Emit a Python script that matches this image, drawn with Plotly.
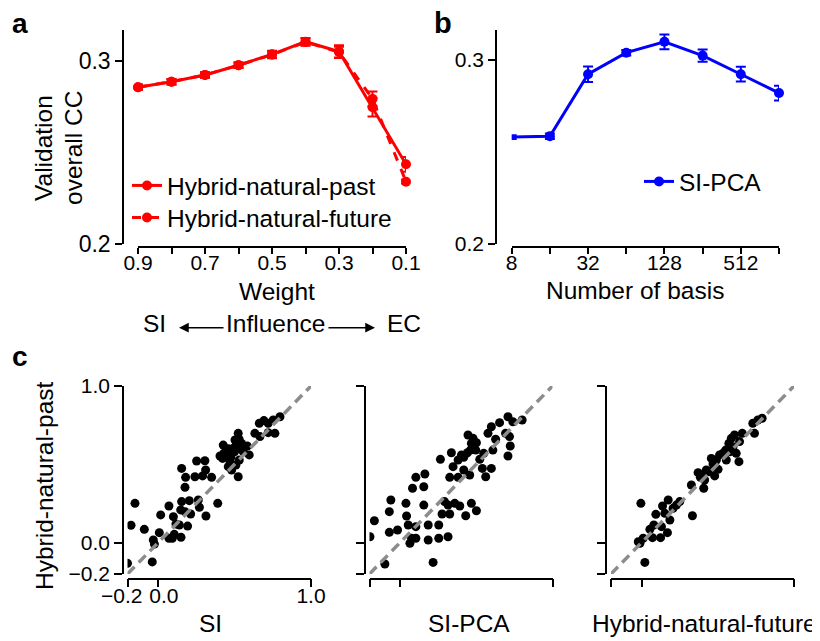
import plotly.graph_objects as go
import math

W, H = 820, 641
OFF = 8  # page body margin of the html page
def px(x): return (x - OFF) / W
def py(y): return 1 - (y - OFF) / H

FONT = "Liberation Sans, Arial, sans-serif"

# ---------------- data ----------------
weights = [0.9, 0.8, 0.7, 0.6, 0.5, 0.4, 0.3, 0.2, 0.1]
weight_labels = ["0.9", "", "0.7", "", "0.5", "", "0.3", "", "0.1"]
past_cc = [0.2858, 0.2888, 0.2925, 0.2978, 0.3038, 0.3107, 0.3053, 0.2748, 0.2436]
past_err = [0.0015, 0.0015, 0.0015, 0.0015, 0.002, 0.002, 0.0035, 0.005, 0.004]
future_cc = [0.2858, 0.2888, 0.2925, 0.2978, 0.3036, 0.3105, 0.3050, 0.2794, 0.2341]
future_err = [0.0015, 0.0015, 0.0015, 0.0015, 0.002, 0.002, 0.003, 0.004, 0.001]

basis = [8, 16, 32, 64, 128, 256, 512, 1024]
basis_labels = ["8", "", "32", "", "128", "", "512", ""]
pca_cc = [0.2580, 0.2585, 0.2921, 0.3038, 0.3097, 0.3022, 0.2921, 0.2819]
pca_err = [0.001, 0.0015, 0.0042, 0.0015, 0.004, 0.0033, 0.004, 0.004]

si_x = [-0.2, -0.038, -0.177, -0.151, -0.09, -0.031, -0.024, 0.008, 0.017, 0.071, 0.071, 0.093,
        0.106, 0.117, 0.10, 0.15, 0.139, 0.148, 0.154, 0.176, 0.204, 0.213, 0.263, 0.27, 0.193,
        0.313, 0.154, 0.18, 0.176, 0.252, 0.241, 0.291, 0.306, 0.311, 0.35, 0.39, 0.422, 0.426,
        0.405, 0.448, 0.459, 0.476, 0.492, 0.503, 0.524, 0.513, 0.481, 0.524, 0.546, 0.557, 0.531,
        0.509, 0.596, 0.583, 0.633, 0.666, 0.662, 0.692, 0.72, 0.753, 0.797, 0.72, 0.764, 0.43,
        0.46, 0.50, 0.53, 0.47, 0.44, 0.55]
si_y = [-0.132, -0.123, 0.111, 0.251, 0.085, 0.017, -0.009, 0.064, 0.177, 0.234, 0.028, 0.028,
        0.053, 0.119, 0.166, 0.034, 0.113, 0.209, 0.262, 0.198, 0.268, 0.183, 0.272, 0.226, 0.106,
        0.170, 0.474, 0.417, 0.353, 0.521, 0.421, 0.426, 0.523, 0.464, 0.417, 0.251, 0.538, 0.623,
        0.553, 0.581, 0.485, 0.545, 0.602, 0.655, 0.698, 0.623, 0.464, 0.421, 0.634, 0.581, 0.528,
        0.496, 0.560, 0.617, 0.698, 0.677, 0.762, 0.779, 0.762, 0.783, 0.804, 0.702, 0.698, 0.57,
        0.60, 0.58, 0.66, 0.52, 0.55, 0.60]

pca_x = [-0.197, -0.168, -0.099, -0.07, -0.07, -0.06, -0.016, 0.039, 0.043, 0.054, 0.065, 0.076,
         0.104, 0.104, 0.082, 0.104, 0.156, 0.163, 0.156, 0.185, 0.185, 0.217, 0.254, 0.254, 0.315,
         0.276, 0.292, 0.326, 0.315, 0.359, 0.392, 0.431, 0.468, 0.501, 0.265, 0.326, 0.337, 0.348,
         0.381, 0.381, 0.403, 0.418, 0.442, 0.446, 0.462, 0.479, 0.501, 0.497, 0.457, 0.418, 0.523,
         0.54, 0.562, 0.599, 0.549, 0.577, 0.599, 0.627, 0.653, 0.692, 0.708, 0.718, 0.723, 0.708,
         0.74, 0.801, 0.609, 0.468]
pca_y = [0.038, 0.14, -0.136, 0.066, 0.198, 0.272, 0.081, 0.251, 0.17, 0.113, -0.004, 0.028,
         0.028, 0.102, 0.347, 0.417, 0.357, 0.438, 0.24, 0.113, 0.017, -0.126, 0.113, 0.028, 0.038,
         0.183, 0.262, 0.183, 0.24, 0.251, 0.234, 0.172, 0.251, 0.204, 0.532, 0.417, 0.574, 0.485,
         0.417, 0.528, 0.56, 0.545, 0.574, 0.687, 0.591, 0.666, 0.638, 0.591, 0.432, 0.464, 0.532,
         0.474, 0.421, 0.474, 0.57, 0.698, 0.74, 0.66, 0.766, 0.698, 0.804, 0.677, 0.617, 0.553,
         0.772, 0.783, 0.591, 0.634]

fut_x = [0.022, -0.021, -0.01, -0.004, 0.011, 0.055, 0.081, 0.094, 0.072, 0.125, 0.131, 0.138,
         0.153, 0.175, 0.17, 0.186, 0.207, 0.229, 0.251, 0.334, 0.327, 0.371, 0.408, 0.393, 0.425,
         0.447, 0.48, 0.491, 0.512, 0.534, 0.552, 0.573, 0.589, 0.61, 0.60, 0.639, 0.621, 0.661,
         0.643, 0.73, 0.741, 0.763, 0.791, 0.469, 0.556, 0.458, 0.386, 0.414, 0.502, 0.582]
fut_y = [-0.126, 0.006, -0.004, 0.251, 0.028, 0.085, 0.113, 0.181, 0.032, 0.032, 0.102, 0.234,
         0.187, 0.272, 0.064, 0.145, 0.219, 0.24, 0.262, 0.172, 0.368, 0.447, 0.347, 0.432, 0.464,
         0.453, 0.426, 0.528, 0.56, 0.57, 0.591, 0.634, 0.666, 0.687, 0.613, 0.517, 0.57, 0.698,
         0.645, 0.762, 0.698, 0.783, 0.794, 0.502, 0.528, 0.538, 0.417, 0.40, 0.468, 0.581]

diag = [-0.2, 1.0]
c_ticks = [-0.2, 0.0, 1.0]

RED = "#ff0000"
BLUE = "#0000ff"

fig = go.Figure()

# ---------------- panel a ----------------
fig.add_trace(go.Scatter(
    x=weights, y=past_cc, name="Hybrid-natural-past", mode="lines+markers",
    line=dict(color=RED, width=3), marker=dict(color=RED, size=10),
    error_y=dict(type="data", array=past_err, color=RED, thickness=2, width=5),
    xaxis="x", yaxis="y", cliponaxis=False, legend="legend"))
fig.add_trace(go.Scatter(
    x=weights, y=future_cc, name="Hybrid-natural-future", mode="lines+markers",
    line=dict(color=RED, width=3, dash="dash"), marker=dict(color=RED, size=10),
    error_y=dict(type="data", array=future_err, color=RED, thickness=2, width=5),
    xaxis="x", yaxis="y", cliponaxis=False, legend="legend3"))

# ---------------- panel b ----------------
fig.add_trace(go.Scatter(
    x=basis, y=pca_cc, name="SI-PCA", mode="lines+markers",
    line=dict(color=BLUE, width=3), marker=dict(color=BLUE, size=10),
    error_y=dict(type="data", array=pca_err, color=BLUE, thickness=2, width=5),
    xaxis="x2", yaxis="y2", cliponaxis=False, legend="legend2"))

# ---------------- panel c ----------------
for (xs, ys, xa, ya) in [(si_x, si_y, "x3", "y3"), (pca_x, pca_y, "x4", "y4"), (fut_x, fut_y, "x5", "y5")]:
    fig.add_trace(go.Scatter(x=xs, y=ys, mode="markers", showlegend=False,
                             marker=dict(color="black", size=9),
                             xaxis=xa, yaxis=ya))
    fig.add_trace(go.Scatter(x=diag, y=diag, mode="lines", showlegend=False,
                             line=dict(color="#8c8c8c", width=3.5, dash="10px,6px"),
                             xaxis=xa, yaxis=ya))

axis_common = dict(showgrid=False, zeroline=False, showline=True, linecolor="black",
                   linewidth=1.5, ticks="outside", tickcolor="black", tickwidth=1.5,
                   tickangle=0, anchor="free", automargin=False)

leg_common = dict(xanchor="left", yanchor="top", bgcolor="rgba(0,0,0,0)",
                  font=dict(size=24.5), itemwidth=30)

layout = dict(
    template="none",
    width=W, height=H, autosize=False,
    margin=dict(l=0, r=0, t=0, b=0, pad=0, autoexpand=False),
    paper_bgcolor="white", plot_bgcolor="white",
    font=dict(family=FONT, color="black", size=21),
    # panel a
    xaxis=dict(axis_common, domain=[px(138), px(406)], range=[0.9, 0.1], position=py(247),
               tickvals=weights, ticktext=weight_labels, ticklen=6, tickfont=dict(size=21),
               ticklabelstandoff=-9),
    yaxis=dict(axis_common, domain=[py(244), py(30)], range=[0.2, 0.3171], position=px(123),
               tickvals=[0.2, 0.3], ticktext=["0.2", "0.3"], ticklen=7, tickfont=dict(size=23)),
    # panel b
    xaxis2=dict(axis_common, type="log", domain=[px(511.7), px(779)],
                range=[math.log10(8), math.log10(1024)], position=py(247),
                tickvals=basis, ticktext=basis_labels, ticklen=6, tickfont=dict(size=21),
                ticklabelstandoff=-9),
    yaxis2=dict(axis_common, domain=[py(244), py(30)], range=[0.2, 0.3161], position=px(496),
                tickvals=[0.2, 0.3], ticktext=["0.2", "0.3"], ticklen=7, tickfont=dict(size=21)),
    legend=dict(leg_common, x=px(127), y=py(163)),
    legend3=dict(leg_common, x=px(127), y=py(195)),
    legend2=dict(leg_common, x=px(639), y=py(159)),
)

c_x_domains = [(127.5, 311), (369.5, 552.5), (611, 794)]
c_y_pos = [123, 364.5, 606]
for i in range(3):
    n = i + 3
    first = (i == 0)
    layout[f"xaxis{n}"] = dict(axis_common, domain=[px(c_x_domains[i][0]), px(c_x_domains[i][1])],
                               range=[-0.2, 1.0], position=py(578.5), tickvals=c_ticks,
                               ticktext=["\u22120.2\u00a0\u00a0", "\u00a0\u00a00.0", "1.0"] if first else ["", "", ""],
                               ticklen=8, tickfont=dict(size=21), ticklabelstandoff=-9)
    layout[f"yaxis{n}"] = dict(axis_common, domain=[py(574), py(386)], range=[-0.2, 1.0],
                               position=px(c_y_pos[i]), tickvals=c_ticks,
                               ticktext=["\u22120.2", "0.0", "1.0"] if first else ["", "", ""],
                               ticklen=8, tickfont=dict(size=21))

fig.update_layout(**layout)

def text(t, x, y, size=24.5, bold=False, angle=0, xanchor="center"):
    fig.add_annotation(text=f"<b>{t}</b>" if bold else t, x=px(x), y=py(y), xref="paper", yref="paper",
                       showarrow=False, xanchor=xanchor, yanchor="middle", textangle=angle,
                       font=dict(size=size, family=FONT, color="black"))

text("a", 10, 23, size=28, bold=True, xanchor="left")
text("b", 432, 23, size=29, bold=True, xanchor="left")
text("c", 10, 356, size=28, bold=True, xanchor="left")

text("Validation", 43, 148, angle=-90)
text("overall CC", 73, 148, angle=-90)
text("Weight", 277, 291)
text("Number of basis", 635, 290)
text("SI", 154.5, 324)
text("Influence", 275, 324)
text("EC", 404, 324)

for (hx, dx) in [(179, 46), (375, -48)]:
    fig.add_annotation(x=px(hx), y=py(327.7), xref="paper", yref="paper", text="",
                       showarrow=True, ax=dx, ay=0, arrowhead=2, arrowsize=1.3,
                       arrowwidth=1.5, arrowcolor="black", standoff=0)

text("Hybrid-natural-past", 44, 486, angle=-90)
text("SI", 210, 623)
text("SI-PCA", 469, 623)
text("Hybrid-natural-future", 704, 623)

fig.write_html("out.html")
